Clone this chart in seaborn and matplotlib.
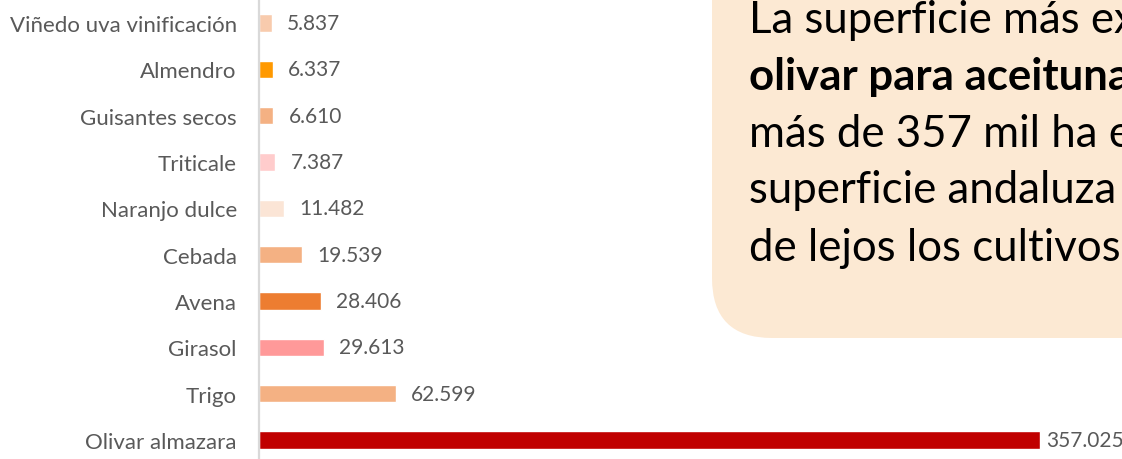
import matplotlib
matplotlib.use("Agg")
import matplotlib.pyplot as plt
import seaborn as sns
from matplotlib.patches import FancyBboxPatch
from matplotlib.transforms import IdentityTransform

cultivos = ["Viñedo uva vinificación", "Almendro", "Guisantes secos", "Triticale",
            "Naranjo dulce", "Cebada", "Avena", "Girasol", "Trigo", "Olivar almazara"]
hectareas = [5837, 6337, 6610, 7387, 11482, 19539, 28406, 29613, 62599, 357025]
colores = ["#F8CBAD", "#FF9900", "#F4B183", "#FFCCCC", "#FBE5D6",
           "#F4B183", "#ED7D31", "#FF9999", "#F4B183", "#C00000"]
etiquetas = ["5.837", "6.337", "6.610", "7.387", "11.482",
             "19.539", "28.406", "29.613", "62.599", "357.025"]

texto_caja = ["La superficie más extensa",
              "olivar para aceituna",
              "más de 357 mil ha en",
              "superficie andaluza",
              "de lejos los cultivos"]

sns.set_style("white")
plt.rcParams["font.family"] = ["Lato", "DejaVu Sans"]

fig = plt.figure(figsize=(11.22, 4.6), dpi=100)
ax = fig.add_axes([259 / 1122, 0, 863 / 1122, 1])

sns.barplot(x=hectareas, y=cultivos, hue=cultivos, palette=colores, legend=False,
            orient="h", width=0.37, ax=ax, saturation=1)

ax.set_xlim(0, 394450)
ax.set_ylim(9.41, -0.518)
ax.set_xticks([])
ax.set_xlabel("")
ax.set_ylabel("")
ax.tick_params(axis="y", length=0, pad=16, labelsize=16, labelcolor="#595959")
for s in ["top", "right", "bottom"]:
    ax.spines[s].set_visible(False)
ax.spines["left"].set_color("#D9D9D9")
ax.spines["left"].set_linewidth(1.6)

# etiquetas de valor, una por barra
for cont, etq in zip(ax.containers, etiquetas):
    pad = 4 if etq == etiquetas[-1] else 11
    ax.bar_label(cont, labels=[etq], padding=pad, fontsize=15, color="#595959")

# caja de texto (recortada por el borde derecho, como en el original)
caja = FancyBboxPatch((712, 121), 600, 500, boxstyle="round,pad=0,rounding_size=60",
                      transform=IdentityTransform(), facecolor="#FCE9D3",
                      edgecolor="none", zorder=0)
fig.patches.append(caja)

bases = [33, 90, 147, 203, 261]
for k, linea in enumerate(texto_caja):
    fig.text(749 / 1122, 1 - bases[k] / 460, linea, fontsize=31.5, va="baseline",
             ha="left", color="black", fontweight="bold" if k == 1 else "normal")

fig.savefig("out.png", dpi=100)
